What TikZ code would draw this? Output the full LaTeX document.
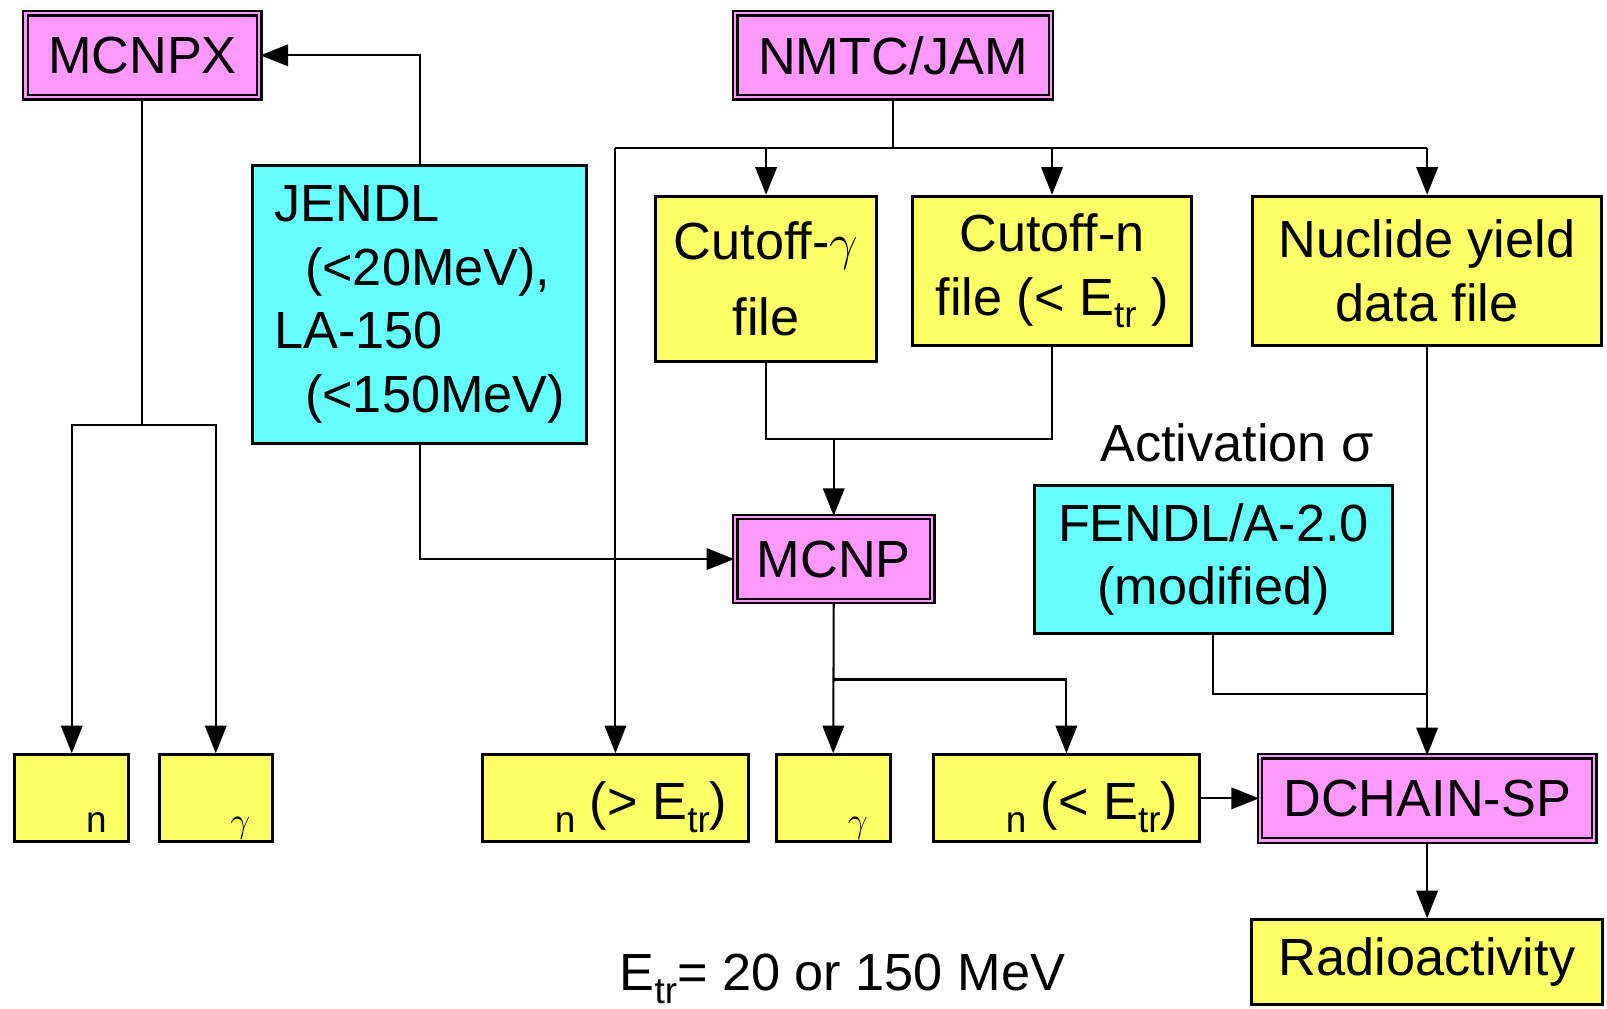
\documentclass[tikz,border=0pt]{standalone}
\usepackage{fontspec}
\setmainfont{Liberation Sans}
\usetikzlibrary{arrows.meta}
\definecolor{pinkbox}{RGB}{255,153,255}
\definecolor{cyanbox}{RGB}{102,255,255}
\definecolor{yellowbox}{RGB}{255,255,102}
\newcommand\lowtxt[1]{\raisebox{-6pt}{\fontsize{18}{18}\selectfont #1}}

\begin{document}
\begin{tikzpicture}[x=0.5pt,y=-0.5pt,
        every node/.style={font=\fontsize{25.5}{31}\selectfont},
        codebox/.style={draw,line width=1.1pt,double=pinkbox,double distance=1.1pt,fill=pinkbox,inner sep=0pt,minimum height=41pt},
        databox/.style={draw,line width=1.5pt,fill=yellowbox,inner sep=0pt},
        libbox/.style={draw,line width=1.5pt,fill=cyanbox,inner sep=0pt},
        fluxbox/.style={databox,minimum height=42.5pt,text height=21pt,text depth=0pt},
        link/.style={line width=1pt},
        arr/.style={line width=1pt,-{Triangle[length=13.5pt,width=10.5pt]}}]
        \useasboundingbox (0,0) rectangle (1568,984);
        % codes
        \node[codebox,minimum width=114pt] (mcnpx) at (139,54){MCNPX};
        \node[codebox,minimum width=154pt] (nmtc) at (871.5,54){NMTC/JAM};
        \node[codebox,minimum width=96pt] (mcnp) at (813.5,545.5){MCNP};
        \node[codebox,minimum width=163pt] (dch) at (1392.5,779){DCHAIN-SP};
        % cross section libraries
        \node[libbox,minimum width=163pt,minimum height=135.5pt,align=left] (jendl) at (409.5,297)
            {JENDL\\\hspace*{15pt}(<20MeV),\\LA-150\\\hspace*{15pt}(<150MeV)};
        \node[libbox,minimum width=174.5pt,minimum height=72.5pt,align=center] (fendl) at (1184,546)
            {FENDL/A-2.0\\(modified)};
        \node (actl) at (1207,432){Activation σ};
        % files
        \node[databox,minimum width=108pt,minimum height=80.5pt,align=center] (cutg) at (747.5,272)
            {Cutoff-$\gamma$\\[6pt]file};
        \node[databox,minimum width=136pt,minimum height=73pt,align=center] (cutn) at (1026.5,264.5)
            {Cutoff-n\\file (< E\lowtxt{tr} )};
        \node[databox,minimum width=170.5pt,minimum height=73pt,align=center] (nuc) at (1392.5,264.5)
            {Nuclide yield\\data file};
        \node[databox,minimum width=171.5pt,minimum height=41.5pt] (radio) at (1392.5,939){Radioactivity};
        % fluxes
        \node[fluxbox,minimum width=55.5pt] (nx) at (70,779){\hspace*{24pt}\lowtxt{n}};
        \node[fluxbox,minimum width=55pt] (gx) at (210.5,779){\hspace*{24pt}\lowtxt{$\gamma$}};
        \node[fluxbox,minimum width=130pt] (ngt) at (600.5,779){\hspace*{25pt}\lowtxt{n} (> E\lowtxt{tr})};
        \node[fluxbox,minimum width=55.5pt] (gm) at (813,779){\hspace*{24pt}\lowtxt{$\gamma$}};
        \node[fluxbox,minimum width=130pt] (nlt) at (1040.5,779){\hspace*{25pt}\lowtxt{n} (< E\lowtxt{tr})};
        \node (note) at (822,955){E\lowtxt{tr}= 20 or 150 MeV};
        % junctions
        \coordinate (mxj) at (139,415);
        \coordinate (top) at (871.5,144);
        \coordinate (cj) at (813.5,428);
        \coordinate (mo) at (813.5,663);
        \coordinate (fo) at (1392.5,677);
        % connectors
        \draw[link] (mcnpx.south) -- (mxj);
        \draw[arr] (mxj) -| (nx.north);
        \draw[arr] (mxj) -| (gx.north);
        \draw[arr] (jendl.north) |- (mcnpx.east);
        \draw[arr] (jendl.south) |- (mcnp.west);
        \draw[link] (nmtc.south) -- (top);
        \draw[link] (ngt.north |- top) -- (nuc.north |- top);
        \draw[arr] (ngt.north |- top) -- (ngt.north);
        \draw[arr] (cutg.north |- top) -- (cutg.north);
        \draw[arr] (cutn.north |- top) -- (cutn.north);
        \draw[arr] (nuc.north |- top) -- (nuc.north);
        \draw[link] (cutg.south) |- (cutn.south |- cj) -- (cutn.south);
        \draw[arr] (cj) -- (mcnp.north);
        \draw[arr] (mcnp.south) -- (gm.north);
        \draw[arr] (mo) -| (nlt.north);
        \draw[link] (fendl.south) |- (fo);
        \draw[arr] (nuc.south) -- (dch.north);
        \draw[arr] (nlt.east) -- (dch.west);
        \draw[arr] (dch.south) -- (radio.north);
\end{tikzpicture}
\end{document}
